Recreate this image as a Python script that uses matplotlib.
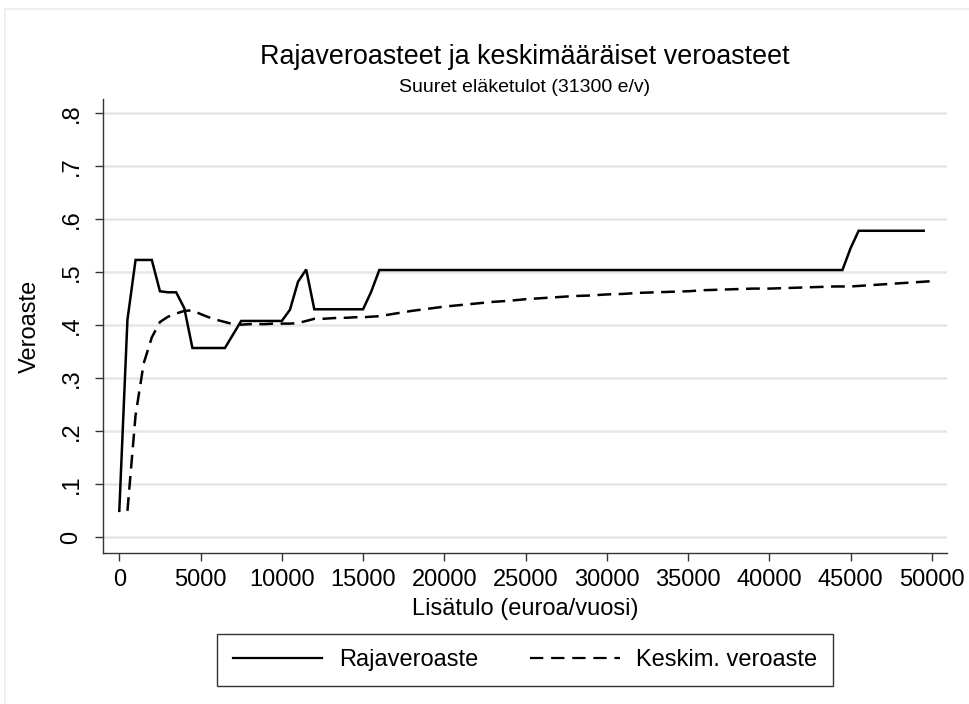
import matplotlib
matplotlib.use("Agg")
import matplotlib.pyplot as plt
from matplotlib.lines import Line2D

plt.rcParams['font.family'] = ['Liberation Sans', 'DejaVu Sans']

# Marginal tax rate (Rajaveroaste): breakpoints of the piecewise-linear line
marg_x = [0, 500, 1000, 2000, 2500, 3000, 3500, 4000, 4500, 6500, 7500,
          10000, 10500, 11000, 11500, 12000, 15000, 15500, 16000,
          44500, 45000, 45500, 49500]
marg_y = [0.050, 0.410, 0.523, 0.523, 0.464, 0.462, 0.462, 0.432, 0.357, 0.357, 0.408,
          0.408, 0.429, 0.482, 0.505, 0.430, 0.430, 0.463, 0.504,
          0.504, 0.545, 0.578, 0.578]

# Average tax rate (Keskim. veroaste)
avg_x = [500, 1000, 1500, 2000, 2500, 3000, 3500, 4000, 4500, 5000,
         5500, 6000, 6500, 7000, 7500, 8000, 8500, 9000, 9500, 10000,
         10500, 11000, 11500, 12000, 12500, 13000, 13500, 14000, 14500, 15000,
         15500, 16000, 17000, 18000, 19000, 20000, 21000, 22000, 23000, 24000,
         25000, 26000, 27000, 28000, 29000, 30000, 31000, 32000, 33000, 34000,
         35000, 36000, 37000, 38000, 39000, 40000, 41000, 42000, 43000, 44000,
         45000, 45500, 46000, 47000, 48000, 49000, 50000]
avg_y = [0.050, 0.230, 0.328, 0.377, 0.406, 0.416, 0.422, 0.427, 0.428, 0.421,
         0.415, 0.410, 0.406, 0.402, 0.401, 0.402, 0.402, 0.402, 0.403, 0.403,
         0.403, 0.404, 0.408, 0.412, 0.412, 0.413, 0.414, 0.414, 0.415, 0.415,
         0.416, 0.417, 0.422, 0.427, 0.431, 0.435, 0.438, 0.441, 0.444, 0.446,
         0.449, 0.451, 0.453, 0.455, 0.456, 0.458, 0.459, 0.461, 0.462, 0.463,
         0.464, 0.466, 0.467, 0.468, 0.469, 0.469, 0.470, 0.471, 0.472, 0.473,
         0.473, 0.474, 0.475, 0.477, 0.479, 0.481, 0.483]

x_ticks = [0, 5000, 10000, 15000, 20000, 25000, 30000, 35000, 40000, 45000, 50000]
y_ticks = [0, 0.1, 0.2, 0.3, 0.4, 0.5, 0.6, 0.7, 0.8]
y_labels = ['0', '.1', '.2', '.3', '.4', '.5', '.6', '.7', '.8']

W, H = 969, 704
fig = plt.figure(figsize=(W / 100, H / 100), dpi=100)
fig.patch.set_facecolor('white')

# faint outer frame (left and top)
fig.add_artist(Line2D([5 / W, 5 / W], [0, 1 - 9 / H], transform=fig.transFigure,
                      color='#ececec', lw=1.2))
fig.add_artist(Line2D([5 / W, 1], [1 - 9 / H, 1 - 9 / H], transform=fig.transFigure,
                      color='#ececec', lw=1.2))

left, right = 103.3 / W, 946.7 / W
bottom, top = 1 - 553.3 / H, 1 - 99 / H
ax = fig.add_axes([left, bottom, right - left, top - bottom])

ax.set_xlim(-985, 50917)
ax.set_ylim(-0.030, 0.8264)

for yv in y_ticks:
    ax.axhline(yv, color='#e6e6e6', lw=1.8, zorder=0)

ax.plot(marg_x, marg_y, color='black', lw=1.8, solid_joinstyle='miter', zorder=3)
ax.plot(avg_x, avg_y, color='black', lw=1.8, dashes=(5.5, 3), zorder=3)

ax.spines['top'].set_visible(False)
ax.spines['right'].set_visible(False)
for s in ('left', 'bottom'):
    ax.spines[s].set_linewidth(1.0)
    ax.spines[s].set_color('#333333')

ax.set_xticks(x_ticks)
ax.set_xticklabels([str(v) for v in x_ticks])
ax.set_yticks(y_ticks)
ax.set_yticklabels(y_labels, rotation=90, va='center')
ax.tick_params(axis='both', direction='out', length=6, width=1.0, color='#333333',
               labelsize=17)
ax.tick_params(axis='x', pad=5)
ax.tick_params(axis='y', pad=9)

ax.set_xlabel('Lisätulo (euroa/vuosi)', fontsize=17, labelpad=5)
ax.set_ylabel('Veroaste', fontsize=17, labelpad=14)

cx = (left + right) / 2
fig.text(cx, 1 - 57 / H, 'Rajaveroasteet ja keskimääräiset veroasteet',
         ha='center', va='center', fontsize=19.4)
fig.text(cx, 1 - 87 / H, 'Suuret eläketulot (31300 e/v)',
         ha='center', va='center', fontsize=14)

handles = [Line2D([], [], color='black', lw=1.6),
           Line2D([], [], color='black', lw=1.6, dashes=(6, 3.5))]
leg = fig.legend(handles, ['Rajaveroaste', 'Keskim. veroaste'],
                 loc='center', bbox_to_anchor=(cx, 1 - 660 / H), ncol=2,
                 fontsize=17, frameon=True, fancybox=False, edgecolor='black',
                 handlelength=3.8, handletextpad=0.7, columnspacing=2.2,
                 borderpad=0.65, borderaxespad=0)
leg.get_frame().set_linewidth(1.0)

fig.savefig('out.png', dpi=100, facecolor='white')
